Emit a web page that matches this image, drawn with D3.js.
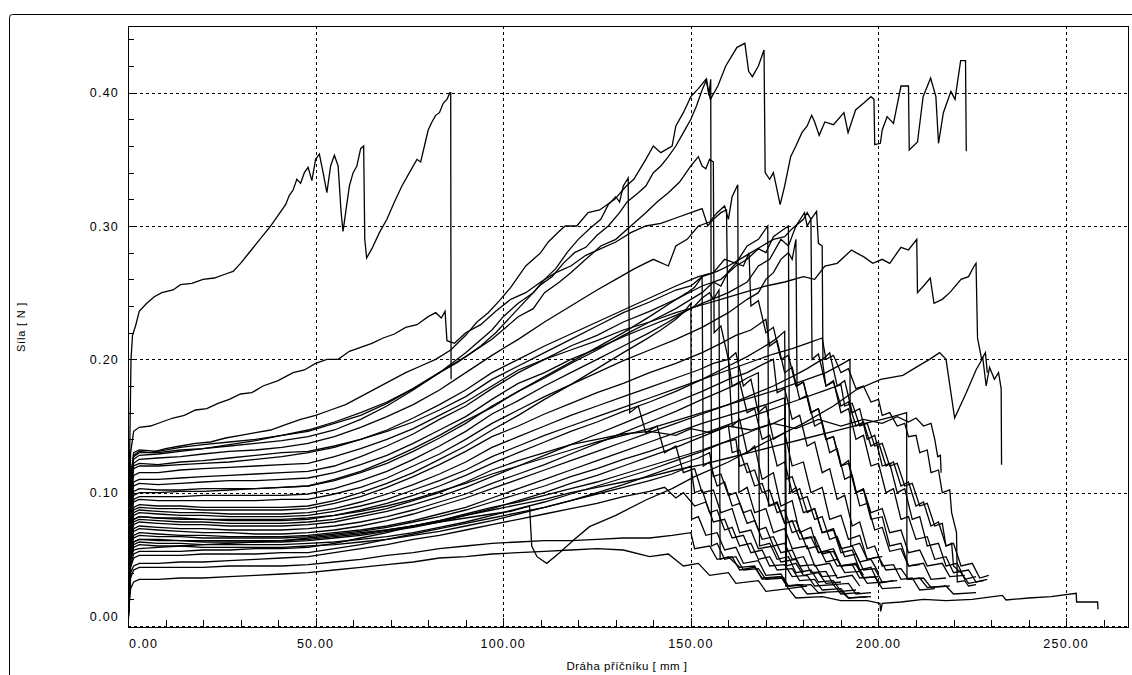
<!DOCTYPE html>
<html lang="en">
<head>
<meta charset="utf-8">
<title>Síla / dráha příčníku</title>
<script src="https://d3js.org/d3.v7.min.js"></script>
<style>
  body { margin: 0; background: #fff; }
  text { font-family: "Liberation Sans", Arial, sans-serif; fill: #000; }
</style>
</head>
<body>
<script>
// axis ticks (mm and N)
const xTicks = [0, 50, 100, 150, 200, 250];
const yTicks = [0, 0.1, 0.2, 0.3, 0.4];

// test curves, [dráha mm, síla N]
const c01 = [[0,0],[0.4,0.12],[0.8,0.2],[1.2,0.218],[2,0.225],[3,0.236],[5,0.242],[7,0.247],[9,0.25],[12,0.252],[14,0.256],[17,0.257],[20,0.26],[23,0.261],[26,0.264],[28,0.266],[30,0.272],[32,0.279],[34,0.286],[36,0.293],[38,0.3],[40,0.308],[42,0.316],[43,0.323],[44,0.327],[45,0.335],[46,0.332],[47,0.34],[48,0.344],[49,0.334],[50,0.35],[51,0.354],[52,0.34],[53,0.325],[54,0.345],[55,0.353],[56,0.345],[56.8,0.31],[57.3,0.296],[58,0.31],[59,0.33],[60,0.34],[61,0.345],[62,0.358],[62.8,0.36],[63.1,0.29],[63.6,0.276],[65,0.283],[67,0.295],[69,0.305],[71,0.318],[73,0.33],[75,0.34],[77,0.35],[78,0.348],[79,0.36],[80,0.372],[81,0.378],[82,0.383],[83,0.385],[84,0.392],[85,0.395],[85.8,0.4],[86,0.4],[86.1,0.185]];
const c02 = [[0,0],[0.3,0.06],[0.7,0.13],[1.5,0.146],[3,0.149],[6,0.15],[9,0.153],[12,0.156],[15,0.158],[18,0.162],[21,0.163],[24,0.167],[27,0.17],[30,0.174],[33,0.175],[36,0.18],[40,0.184],[44,0.19],[47,0.192],[50,0.197],[53,0.2],[56,0.2],[59,0.206],[62,0.209],[65,0.212],[68,0.216],[71,0.219],[74,0.224],[77,0.226],[80,0.232],[82,0.235],[83.5,0.231],[84.5,0.236],[85,0.214],[87,0.212],[90,0.22],[94,0.226],[98,0.236],[102,0.245],[106,0.25],[110,0.258],[114,0.265],[118,0.27],[122,0.278],[126,0.283],[130,0.288],[134,0.295],[138,0.3],[142,0.302],[146,0.306],[150,0.31],[153,0.313],[154.5,0.3],[156,0.305],[158,0.31],[159.5,0.312],[160,0.2],[161,0.15],[163,0.155],[165,0.13],[167,0.135],[169,0.11],[172,0.115],[174,0.09],[177,0.094],[179,0.07],[182,0.074],[184,0.055],[188,0.058],[190,0.045],[194,0.047],[196,0.038]];
const c03 = [[0,0],[0.3,0.05],[0.7,0.11],[1.5,0.128],[3,0.131],[6,0.13],[10,0.133],[14,0.135],[18,0.137],[22,0.138],[26,0.141],[30,0.143],[34,0.145],[38,0.147],[42,0.151],[46,0.155],[50,0.158],[54,0.162],[58,0.166],[62,0.172],[66,0.178],[70,0.184],[74,0.19],[78,0.195],[82,0.2],[86,0.207],[90,0.218],[93,0.228],[96,0.235],[99,0.244],[102,0.254],[106,0.27],[110,0.28],[112,0.288],[114.5,0.295],[116.5,0.3],[119.6,0.3],[122.6,0.31],[125.7,0.312],[129.7,0.32],[132.8,0.33],[134.8,0.335],[138,0.35],[140,0.36],[142,0.355],[145,0.36],[146,0.375],[148,0.385],[150,0.397],[152,0.403],[154,0.41],[155.2,0.395],[157.2,0.405],[159.3,0.42],[161,0.428],[162.3,0.434],[164.4,0.437],[165.4,0.416],[166.4,0.412],[168,0.42],[169.5,0.432],[169.8,0.34],[171,0.335],[172,0.34],[173.8,0.316],[175,0.33],[176.6,0.352],[178,0.36],[179.6,0.37],[181,0.375],[182.2,0.383],[183,0.378],[184.2,0.368],[185.7,0.378],[188,0.376],[190.8,0.385],[191.9,0.37],[193.9,0.387],[196,0.392],[198,0.397],[198.8,0.395],[199,0.361],[200.5,0.362],[201,0.372],[202.3,0.382],[204,0.377],[206,0.405],[208,0.405],[208.2,0.357],[210.4,0.363],[211.9,0.397],[213.9,0.411],[215.3,0.397],[216,0.362],[217.3,0.385],[219.3,0.401],[220.4,0.395],[221.9,0.424],[223.2,0.424],[223.4,0.356]];
const c04 = [[0,0],[0.3,0.05],[0.7,0.105],[1.5,0.125],[3,0.128],[8,0.129],[14,0.131],[20,0.133],[27,0.136],[34,0.139],[41,0.143],[48,0.147],[55,0.153],[62,0.16],[69,0.168],[76,0.178],[83,0.19],[88,0.198],[94,0.21],[98,0.22],[102,0.232],[106,0.244],[110,0.256],[113,0.262],[116,0.272],[119,0.28],[122,0.284],[125,0.293],[128,0.3],[131,0.31],[133,0.318],[136,0.325],[138,0.33],[140,0.34],[142,0.345],[144,0.352],[146,0.36],[148,0.37],[150,0.38],[151.5,0.39],[153,0.402],[154.2,0.41],[154.8,0.398],[155.3,0.41],[155.5,0.06],[157,0.062],[159,0.05],[162,0.052],[164,0.042],[168,0.043],[170,0.035],[175,0.036]];
const c05 = [[0,0],[0.3,0.05],[0.7,0.11],[1.5,0.13],[3,0.132],[8,0.131],[14,0.134],[20,0.136],[27,0.138],[34,0.14],[41,0.143],[48,0.146],[55,0.152],[62,0.158],[69,0.167],[76,0.178],[83,0.19],[90,0.202],[97,0.215],[104,0.232],[108,0.238],[111,0.25],[115,0.258],[118,0.265],[122,0.275],[126,0.285],[130,0.29],[134,0.3],[138,0.31],[141,0.318],[144,0.325],[147,0.333],[150,0.345],[152,0.352],[153,0.345],[154,0.343],[155,0.35],[156,0.348],[156.2,0.22],[158,0.225],[160,0.2],[162,0.205],[164,0.18],[166,0.185],[168,0.16],[170,0.165],[172,0.14],[175,0.145],[177,0.12],[180,0.123],[182,0.1],[185,0.104],[187,0.08],[190,0.083],[192,0.065],[195,0.068],[197,0.05],[201,0.052]];
const c06 = [[0,0],[0.3,0.05],[0.7,0.11],[1.5,0.127],[3,0.13],[8,0.13],[14,0.132],[20,0.133],[27,0.135],[34,0.137],[41,0.139],[48,0.142],[55,0.147],[62,0.155],[69,0.165],[76,0.177],[83,0.19],[90,0.205],[97,0.222],[100,0.232],[104,0.242],[108,0.25],[111,0.26],[114,0.268],[117,0.28],[120,0.29],[123,0.298],[126,0.305],[128,0.316],[130,0.322],[131,0.318],[132,0.33],[133.3,0.336],[133.7,0.16],[136,0.165],[138,0.145],[141,0.15],[143,0.13],[146,0.135],[148,0.115],[151,0.118],[153,0.1],[156,0.102],[158,0.085],[161,0.088],[163,0.07],[166,0.072],[168,0.058],[172,0.06],[174,0.048],[178,0.05],[180,0.04]];
const c07 = [[0,0],[0.3,0.05],[0.7,0.1],[1.5,0.122],[3,0.125],[8,0.126],[14,0.127],[20,0.129],[27,0.131],[34,0.132],[41,0.134],[48,0.137],[55,0.142],[62,0.149],[69,0.157],[76,0.166],[83,0.177],[90,0.19],[97,0.203],[104,0.215],[111,0.228],[118,0.24],[125,0.252],[130,0.26],[135,0.268],[140,0.275],[144,0.27],[146,0.285],[149,0.29],[152,0.3],[155,0.303],[157,0.31],[159,0.315],[160,0.305],[161,0.322],[162.5,0.331],[162.8,0.1],[165,0.104],[167,0.085],[170,0.088],[172,0.07],[175,0.073],[177,0.058],[181,0.06],[183,0.045],[187,0.047],[189,0.036],[193,0.038],[195,0.03]];
const c08 = [[0,0],[0.3,0.05],[0.7,0.1],[1.5,0.12],[3,0.122],[8,0.121],[14,0.123],[20,0.124],[27,0.126],[34,0.128],[41,0.13],[48,0.131],[55,0.135],[62,0.14],[69,0.146],[76,0.153],[83,0.162],[90,0.172],[97,0.185],[104,0.195],[111,0.205],[118,0.215],[125,0.225],[132,0.235],[139,0.243],[146,0.252],[150,0.255],[153,0.262],[157,0.266],[160,0.27],[163,0.275],[166,0.28],[169,0.285],[172,0.29],[175,0.292],[177,0.298],[180,0.305],[181,0.31],[182,0.305],[183.5,0.311],[184,0.287],[185,0.285],[185.2,0.2],[187,0.205],[189,0.18],[191,0.184],[193,0.16],[195,0.163],[197,0.14],[199,0.143],[201,0.12],[203,0.122],[205,0.1],[207,0.103],[209,0.08],[211,0.082],[213,0.06],[216,0.062],[218,0.045],[221,0.047],[223,0.035],[226,0.037]];
const c09 = [[0,0],[0.3,0.045],[0.7,0.095],[1.5,0.113],[3,0.115],[8,0.115],[14,0.117],[20,0.118],[27,0.119],[34,0.12],[41,0.121],[48,0.122],[55,0.127],[62,0.133],[69,0.14],[76,0.148],[83,0.158],[90,0.168],[97,0.18],[104,0.192],[111,0.2],[118,0.207],[125,0.214],[132,0.222],[139,0.228],[146,0.235],[152,0.24],[158,0.245],[164,0.25],[170,0.255],[175,0.258],[180,0.262],[183,0.26],[185.7,0.27],[189,0.272],[192.8,0.282],[194,0.28],[196,0.277],[198.5,0.272],[201,0.275],[203,0.272],[206,0.284],[208,0.282],[210.2,0.29],[210.4,0.25],[212,0.255],[213.8,0.261],[214.8,0.242],[217,0.245],[219,0.25],[222,0.26],[224,0.262],[225.5,0.27],[226,0.272],[226.4,0.216],[227.5,0.2],[228.5,0.205],[229,0.19]];
const c10 = [[0,0],[0.3,0.045],[0.7,0.09],[1.5,0.108],[3,0.11],[8,0.11],[14,0.111],[20,0.112],[27,0.113],[34,0.114],[41,0.115],[48,0.116],[55,0.12],[62,0.127],[69,0.135],[76,0.144],[83,0.155],[90,0.165],[97,0.178],[104,0.19],[111,0.2],[118,0.21],[125,0.218],[132,0.228],[139,0.236],[146,0.245],[153,0.255],[158,0.26],[162,0.27],[165,0.275],[168,0.283],[170,0.28],[172,0.292],[174,0.296],[176,0.3],[176.3,0.1],[178,0.104],[180,0.085],[183,0.088],[185,0.07],[188,0.073],[190,0.058],[193,0.06],[195,0.048],[198,0.05],[200,0.04]];
const c11 = [[0,0],[0.3,0.04],[0.7,0.09],[1.5,0.105],[3,0.107],[8,0.106],[14,0.107],[20,0.108],[27,0.109],[34,0.109],[41,0.11],[48,0.111],[55,0.115],[62,0.121],[69,0.128],[76,0.137],[83,0.147],[90,0.157],[97,0.17],[104,0.182],[111,0.19],[118,0.2],[125,0.208],[132,0.217],[139,0.225],[146,0.233],[153,0.242],[160,0.25],[165,0.258],[168,0.27],[171,0.275],[174,0.29],[176,0.285],[178,0.3],[180.3,0.31],[181,0.3],[182,0.305],[182.3,0.2],[184,0.204],[186,0.18],[188,0.184],[190,0.16],[192,0.163],[194,0.14],[196,0.143],[198,0.12],[200,0.122],[202,0.1],[204,0.103],[206,0.08],[208,0.082],[210,0.065],[213,0.067],[215,0.05],[218,0.052],[220,0.04],[224,0.042],[226,0.033],[229,0.035]];
const c12 = [[0,0],[0.3,0.04],[0.7,0.085],[1.5,0.098],[3,0.1],[8,0.1],[14,0.101],[20,0.101],[27,0.102],[34,0.103],[41,0.104],[48,0.105],[55,0.109],[62,0.115],[69,0.122],[76,0.131],[83,0.141],[90,0.152],[97,0.165],[104,0.176],[111,0.186],[118,0.197],[125,0.207],[132,0.218],[139,0.228],[146,0.238],[150,0.245],[153,0.25],[156,0.258],[158,0.255],[160,0.266],[162,0.272],[164,0.27],[165.5,0.28],[166,0.24],[168,0.244],[170,0.22],[172,0.224],[174,0.2],[176,0.203],[178,0.18],[180,0.183],[182,0.16],[184,0.163],[186,0.14],[188,0.142],[190,0.12],[192,0.122],[194,0.1],[196,0.102],[198,0.08],[201,0.082],[203,0.06],[206,0.062],[208,0.045],[212,0.047],[214,0.035],[218,0.036]];
const c13 = [[0,0],[0.3,0.04],[0.7,0.08],[1.5,0.095],[3,0.097],[8,0.097],[14,0.097],[20,0.098],[27,0.098],[34,0.098],[41,0.098],[48,0.099],[55,0.103],[62,0.109],[69,0.116],[76,0.125],[83,0.135],[90,0.146],[97,0.159],[104,0.169],[111,0.18],[118,0.19],[125,0.2],[132,0.21],[139,0.22],[144,0.228],[148,0.235],[151,0.24],[153,0.246],[155,0.25],[156,0.245],[157.5,0.252],[157.8,0.05],[160,0.052],[163,0.044],[167,0.045],[169,0.035],[174,0.037],[176,0.028],[181,0.03]];
const c14 = [[0,0],[0.3,0.04],[0.7,0.08],[1.5,0.093],[3,0.095],[8,0.094],[14,0.094],[20,0.094],[27,0.094],[34,0.094],[41,0.095],[48,0.095],[55,0.099],[62,0.104],[69,0.111],[76,0.12],[83,0.129],[90,0.14],[97,0.152],[104,0.162],[111,0.172],[118,0.181],[125,0.19],[132,0.199],[139,0.207],[146,0.215],[153,0.224],[160,0.235],[165,0.245],[168,0.25],[170,0.26],[172,0.265],[174,0.275],[176,0.28],[177,0.275],[178,0.29],[178.3,0.18],[180,0.183],[182,0.16],[184,0.163],[186,0.14],[188,0.142],[190,0.12],[192,0.124],[194,0.1],[196,0.103],[198,0.085],[201,0.088],[203,0.07],[206,0.072],[208,0.055],[211,0.057],[213,0.045],[217,0.047],[219,0.037],[223,0.038]];
const c15 = [[0,0],[0.3,0.025],[0.7,0.05],[1.5,0.057],[3,0.058],[8,0.059],[14,0.06],[20,0.061],[27,0.062],[34,0.063],[41,0.064],[48,0.066],[55,0.068],[62,0.07],[69,0.072],[76,0.075],[83,0.078],[90,0.081],[97,0.084],[102,0.086],[107,0.09],[107.6,0.06],[109,0.052],[111.6,0.047],[115,0.055],[119,0.065],[123,0.0745],[130,0.083],[138,0.0945],[145,0.103],[151,0.112],[160,0.123],[170,0.138],[180,0.152],[188,0.165],[194,0.177],[200.6,0.185],[206.5,0.188],[210,0.194],[213.6,0.2],[216.3,0.205],[218,0.2],[220.3,0.156],[223.4,0.175],[226,0.192],[227.8,0.201],[228.7,0.18],[229.6,0.194],[230.9,0.185],[232,0.19],[232.7,0.178],[232.8,0.121]];
const c16 = [[0,0],[0.3,0.035],[0.7,0.075],[1.5,0.087],[3,0.089],[8,0.088],[14,0.088],[20,0.087],[27,0.087],[34,0.087],[41,0.087],[48,0.088],[55,0.092],[62,0.097],[69,0.104],[76,0.112],[83,0.121],[90,0.131],[97,0.142],[104,0.15],[111,0.159],[118,0.167],[125,0.175],[132,0.182],[139,0.19],[146,0.197],[153,0.205],[158,0.212],[162,0.218],[166,0.222],[170,0.23],[171,0.21],[173,0.214],[175,0.19],[177,0.194],[179,0.17],[181,0.173],[183,0.15],[185,0.153],[187,0.13],[189,0.133],[191,0.11],[193,0.113],[195,0.09],[197,0.092],[199,0.072],[201,0.074],[203,0.056],[206,0.058],[208,0.045],[211,0.046]];
const c17 = [[0,0],[0.3,0.035],[0.7,0.07],[1.5,0.085],[3,0.087],[8,0.086],[14,0.085],[20,0.085],[27,0.084],[34,0.084],[41,0.084],[48,0.085],[55,0.088],[62,0.093],[69,0.099],[76,0.106],[83,0.114],[90,0.123],[97,0.134],[104,0.142],[111,0.15],[118,0.158],[125,0.165],[132,0.172],[139,0.179],[146,0.186],[152,0.192],[156,0.197],[160,0.2],[161,0.18],[163,0.183],[165,0.16],[167,0.163],[169,0.14],[171,0.143],[173,0.12],[175,0.123],[177,0.1],[179,0.103],[181,0.085],[183,0.088],[185,0.07],[188,0.072],[190,0.055],[193,0.057],[195,0.042],[198,0.044],[200,0.032],[204,0.034]];
const c18 = [[0,0],[0.3,0.035],[0.7,0.07],[1.5,0.083],[3,0.085],[8,0.084],[14,0.083],[20,0.083],[27,0.082],[34,0.082],[41,0.082],[48,0.083],[55,0.086],[62,0.09],[69,0.095],[76,0.102],[83,0.109],[90,0.117],[97,0.127],[104,0.135],[111,0.143],[118,0.15],[125,0.157],[132,0.164],[139,0.171],[146,0.178],[153,0.185],[160,0.192],[166,0.198],[172,0.204],[177,0.208],[181,0.212],[185,0.216],[186,0.2],[188,0.203],[190,0.19],[192,0.193],[194,0.178],[196,0.18],[198,0.168],[200,0.17],[201,0.158],[203,0.16],[205,0.15],[207,0.152],[208,0.142],[210,0.143],[211,0.13],[213,0.132],[214,0.115],[216,0.117],[217,0.1],[219,0.102],[219.5,0.085],[220.8,0.07],[221,0.033],[223,0.034],[224,0.03],[226,0.031]];
const c19 = [[0,0],[0.3,0.03],[0.7,0.07],[1.5,0.08],[3,0.082],[8,0.081],[14,0.08],[20,0.08],[27,0.079],[34,0.079],[41,0.079],[48,0.08],[55,0.083],[62,0.087],[69,0.092],[76,0.098],[83,0.105],[90,0.113],[97,0.122],[104,0.13],[111,0.138],[118,0.146],[125,0.153],[132,0.161],[139,0.168],[146,0.176],[153,0.185],[160,0.195],[165,0.202],[168,0.207],[171,0.212],[173,0.216],[175,0.221],[175.5,0.045],[178,0.047],[180,0.038],[184,0.04],[186,0.032],[190,0.033]];
const c20 = [[0,0],[0.3,0.03],[0.7,0.065],[1.5,0.078],[3,0.08],[8,0.079],[14,0.078],[20,0.078],[27,0.077],[34,0.077],[41,0.077],[48,0.078],[55,0.08],[62,0.084],[69,0.088],[76,0.094],[83,0.1],[90,0.108],[97,0.117],[104,0.124],[111,0.13],[118,0.136],[125,0.14],[132,0.144],[139,0.146],[146,0.143],[150,0.148],[155,0.145],[160,0.15],[166,0.147],[172,0.152],[178,0.148],[184,0.155],[190,0.15],[196,0.155],[201,0.152],[205,0.157],[208,0.153],[210,0.156],[212,0.15],[214,0.152],[215,0.14],[215.8,0.127],[216.5,0.128],[216.7,0.115]];
const c21 = [[0,0],[0.3,0.03],[0.7,0.065],[1.5,0.076],[3,0.078],[8,0.077],[14,0.076],[20,0.076],[27,0.075],[34,0.075],[41,0.075],[48,0.076],[55,0.078],[62,0.082],[69,0.086],[76,0.091],[83,0.097],[90,0.104],[97,0.112],[104,0.12],[111,0.128],[118,0.136],[125,0.144],[132,0.152],[139,0.16],[146,0.168],[153,0.176],[160,0.185],[165,0.19],[169,0.196],[172,0.2],[173,0.175],[175,0.178],[177,0.155],[179,0.158],[181,0.135],[183,0.138],[185,0.115],[187,0.118],[189,0.095],[191,0.098],[193,0.075],[195,0.078],[197,0.058],[199,0.06],[201,0.045],[204,0.046],[206,0.035],[209,0.036],[211,0.027],[215,0.028]];
const c22 = [[0,0],[0.3,0.03],[0.7,0.062],[1.5,0.073],[3,0.075],[8,0.074],[14,0.073],[20,0.073],[27,0.072],[34,0.072],[41,0.072],[48,0.073],[55,0.075],[62,0.078],[69,0.082],[76,0.087],[83,0.093],[90,0.099],[97,0.107],[104,0.114],[111,0.121],[118,0.129],[125,0.137],[132,0.145],[139,0.153],[146,0.161],[153,0.17],[158,0.176],[162,0.181],[165,0.186],[168,0.19],[168.3,0.06],[171,0.062],[173,0.05],[176,0.052],[178,0.04],[182,0.042],[184,0.033],[188,0.034],[190,0.026],[194,0.027]];
const c23 = [[0,0],[0.3,0.03],[0.7,0.06],[1.5,0.071],[3,0.073],[8,0.072],[14,0.071],[20,0.07],[27,0.07],[34,0.069],[41,0.069],[48,0.07],[55,0.072],[62,0.075],[69,0.079],[76,0.084],[83,0.09],[90,0.096],[97,0.103],[104,0.11],[111,0.117],[118,0.124],[125,0.131],[132,0.138],[139,0.145],[146,0.152],[153,0.159],[160,0.166],[166,0.173],[172,0.18],[177,0.187],[181,0.193],[185,0.2],[186,0.18],[188,0.183],[190,0.165],[192,0.168],[194,0.15],[196,0.153],[198,0.135],[200,0.138],[202,0.12],[204,0.123],[206,0.105],[208,0.108],[210,0.09],[212,0.093],[214,0.075],[216,0.078],[218,0.06],[220,0.062],[222,0.045],[225,0.047],[227,0.036],[229.4,0.038]];
const c24 = [[0,0],[0.3,0.03],[0.7,0.058],[1.5,0.068],[3,0.07],[8,0.069],[14,0.068],[20,0.068],[27,0.067],[34,0.067],[41,0.067],[48,0.068],[55,0.07],[62,0.072],[69,0.075],[76,0.079],[83,0.084],[90,0.089],[97,0.096],[104,0.103],[111,0.11],[118,0.117],[125,0.124],[132,0.131],[139,0.138],[146,0.145],[153,0.152],[160,0.158],[165,0.162],[170,0.166],[175,0.171],[175.3,0.03],[179,0.031],[181,0.024],[186,0.025]];
const c25 = [[0,0],[0.3,0.028],[0.7,0.056],[1.5,0.066],[3,0.068],[8,0.067],[14,0.067],[20,0.066],[27,0.066],[34,0.066],[41,0.066],[48,0.067],[55,0.069],[62,0.071],[69,0.074],[76,0.078],[83,0.082],[90,0.087],[97,0.093],[104,0.099],[111,0.105],[118,0.112],[125,0.118],[132,0.125],[139,0.131],[146,0.138],[153,0.144],[160,0.151],[167,0.158],[174,0.165],[180,0.171],[185,0.176],[190,0.181],[191,0.165],[193,0.167],[195,0.15],[197,0.152],[199,0.135],[201,0.137],[203,0.12],[205,0.122],[207,0.105],[209,0.107],[211,0.09],[213,0.092],[215,0.075],[217,0.077],[218,0.06],[219.5,0.062],[220,0.045],[222,0.04],[224,0.032],[228,0.034]];
const c26 = [[0,0],[0.3,0.027],[0.7,0.054],[1.5,0.063],[3,0.065],[8,0.064],[14,0.064],[20,0.063],[27,0.063],[34,0.063],[41,0.063],[48,0.064],[55,0.066],[62,0.068],[69,0.071],[76,0.074],[83,0.078],[90,0.083],[97,0.088],[104,0.094],[111,0.1],[118,0.107],[125,0.113],[132,0.12],[139,0.127],[146,0.134],[153,0.142],[160,0.15],[161,0.13],[163,0.132],[165,0.115],[167,0.117],[169,0.1],[171,0.102],[173,0.085],[175,0.087],[177,0.07],[179,0.072],[181,0.058],[184,0.06],[186,0.048],[189,0.05],[191,0.04],[195,0.041],[197,0.032],[201,0.033]];
const c27 = [[0,0],[0.3,0.026],[0.7,0.052],[1.5,0.061],[3,0.063],[8,0.062],[14,0.062],[20,0.061],[27,0.061],[34,0.061],[41,0.061],[48,0.062],[55,0.063],[62,0.065],[69,0.067],[76,0.07],[83,0.074],[90,0.078],[97,0.083],[104,0.088],[111,0.093],[118,0.099],[125,0.105],[132,0.111],[139,0.117],[146,0.124],[153,0.131],[160,0.139],[167,0.147],[172,0.152],[175,0.156],[175.4,0.11],[177,0.112],[179,0.095],[181,0.097],[183,0.08],[185,0.082],[187,0.065],[189,0.067],[191,0.052],[194,0.054],[196,0.042],[199,0.043],[201,0.033],[205,0.034]];
const c28 = [[0,0],[0.3,0.025],[0.7,0.05],[1.5,0.059],[3,0.061],[8,0.06],[14,0.06],[20,0.059],[27,0.059],[34,0.059],[41,0.059],[48,0.06],[55,0.061],[62,0.063],[69,0.065],[76,0.068],[83,0.071],[90,0.075],[97,0.079],[104,0.084],[111,0.089],[118,0.094],[125,0.1],[132,0.106],[139,0.113],[146,0.12],[152,0.126],[155,0.13],[156,0.112],[158,0.114],[160,0.098],[162,0.1],[164,0.085],[166,0.087],[168,0.072],[170,0.074],[172,0.06],[175,0.062],[177,0.05],[180,0.052],[182,0.04],[186,0.041],[188,0.031],[192,0.032],[194,0.024],[198,0.025]];
const c29 = [[0,0],[0.3,0.023],[0.7,0.046],[1.5,0.054],[3,0.056],[8,0.056],[14,0.056],[20,0.057],[27,0.057],[34,0.058],[41,0.058],[48,0.059],[55,0.062],[62,0.066],[69,0.07],[76,0.075],[83,0.079],[90,0.084],[97,0.089],[104,0.093],[111,0.098],[118,0.103],[125,0.108],[132,0.114],[139,0.12],[146,0.126],[153,0.132],[158,0.137],[162,0.14],[163,0.12],[165,0.122],[167,0.105],[169,0.107],[171,0.09],[173,0.092],[175,0.077],[177,0.079],[179,0.065],[182,0.067],[184,0.055],[187,0.056],[189,0.045],[193,0.046],[195,0.036],[199,0.037],[201,0.028],[206,0.029]];
const c30 = [[0,0],[0.3,0.022],[0.7,0.044],[1.5,0.051],[3,0.053],[8,0.053],[14,0.053],[20,0.054],[27,0.054],[34,0.054],[41,0.055],[48,0.055],[55,0.058],[62,0.061],[69,0.065],[76,0.069],[83,0.073],[90,0.077],[97,0.081],[104,0.085],[111,0.089],[118,0.094],[125,0.099],[132,0.104],[139,0.109],[145,0.114],[150,0.12],[151,0.1],[153,0.102],[155,0.085],[157,0.087],[159,0.072],[161,0.074],[163,0.06],[166,0.062],[168,0.05],[171,0.052],[173,0.042],[177,0.043],[179,0.034],[183,0.035],[185,0.027],[190,0.028],[192,0.021],[197,0.022]];
const c31 = [[0,0],[0.3,0.02],[0.7,0.04],[1.5,0.045],[3,0.047],[8,0.047],[14,0.048],[20,0.048],[27,0.049],[34,0.05],[41,0.051],[48,0.052],[55,0.055],[62,0.058],[69,0.061],[76,0.065],[83,0.068],[90,0.072],[97,0.076],[104,0.08],[111,0.084],[118,0.088],[125,0.092],[132,0.097],[139,0.101],[143,0.104],[146,0.096],[148,0.1],[151,0.09],[154,0.093],[156,0.078],[159,0.08],[161,0.066],[164,0.068],[166,0.055],[169,0.057],[171,0.045],[175,0.046],[177,0.037],[181,0.038],[183,0.03],[188,0.031],[190,0.024],[195,0.025]];
const c32 = [[0,0],[0.3,0.018],[0.7,0.036],[1.5,0.042],[3,0.044],[8,0.044],[14,0.044],[20,0.044],[27,0.045],[34,0.045],[41,0.045],[48,0.046],[55,0.048],[62,0.05],[69,0.053],[76,0.055],[83,0.058],[90,0.06],[97,0.062],[104,0.063],[111,0.064],[118,0.064],[125,0.065],[132,0.066],[139,0.066],[145,0.068],[150,0.07],[151,0.058],[155,0.06],[157,0.05],[161,0.052],[163,0.042],[167,0.044],[169,0.036],[174,0.037],[176,0.03],[182,0.031],[184,0.025],[190,0.026],[192,0.021],[198,0.022]];
const c33 = [[0,0],[0.3,0.035],[0.7,0.075],[1.5,0.089],[3,0.091],[8,0.09],[14,0.09],[20,0.089],[27,0.089],[34,0.089],[41,0.089],[48,0.09],[55,0.094],[62,0.1],[69,0.107],[76,0.115],[83,0.125],[90,0.135],[97,0.147],[104,0.158],[111,0.17],[118,0.181],[125,0.193],[132,0.205],[138,0.215],[142,0.222],[146,0.23],[148,0.235],[150,0.242],[150.2,0.08],[152,0.082],[154,0.068],[157,0.07],[159,0.057],[162,0.059],[164,0.047],[168,0.049],[170,0.038],[174,0.039],[176,0.03],[180,0.031]];
const c34 = [[0,0],[0.3,0.04],[0.7,0.085],[1.5,0.101],[3,0.103],[8,0.102],[14,0.102],[20,0.103],[27,0.103],[34,0.103],[41,0.104],[48,0.105],[55,0.11],[62,0.116],[69,0.124],[76,0.133],[83,0.143],[90,0.154],[97,0.164],[104,0.176],[111,0.187],[118,0.198],[125,0.209],[132,0.22],[139,0.232],[145,0.243],[149,0.25],[151,0.254],[153,0.262],[153.3,0.12],[155,0.123],[157,0.105],[159,0.108],[161,0.09],[163,0.092],[165,0.077],[167,0.079],[169,0.065],[172,0.067],[174,0.055],[177,0.057],[179,0.045],[183,0.046],[185,0.037],[189,0.038]];
const c35 = [[0,0],[0.3,0.05],[0.7,0.1],[1.5,0.118],[3,0.12],[8,0.12],[14,0.121],[20,0.122],[27,0.123],[34,0.125],[41,0.127],[48,0.13],[55,0.134],[62,0.14],[69,0.147],[76,0.156],[83,0.166],[90,0.177],[97,0.19],[104,0.2],[111,0.21],[118,0.219],[125,0.228],[132,0.237],[139,0.246],[146,0.255],[152,0.262],[156,0.265],[159,0.275],[162,0.272],[165,0.285],[168,0.29],[170.5,0.3],[170.7,0.09],[173,0.093],[175,0.077],[178,0.079],[180,0.065],[183,0.067],[185,0.054],[188,0.056],[190,0.045],[194,0.046],[196,0.036],[200,0.037]];
const c36 = [[0,0],[0.3,0.03],[0.7,0.068],[1.5,0.08],[3,0.082],[8,0.081],[14,0.081],[20,0.08],[27,0.08],[34,0.08],[41,0.08],[48,0.081],[55,0.083],[62,0.086],[69,0.09],[76,0.095],[83,0.101],[90,0.107],[97,0.114],[104,0.12],[111,0.126],[118,0.132],[125,0.138],[132,0.143],[139,0.148],[146,0.154],[153,0.16],[160,0.166],[167,0.172],[174,0.178],[180,0.184],[186,0.19],[190,0.196],[192.4,0.2],[192.6,0.06],[195,0.062],[197,0.05],[200,0.052],[202,0.042],[206,0.043],[208,0.035],[212,0.036],[214,0.029],[219,0.03]];
const c37 = [[0,0],[0.3,0.026],[0.7,0.054],[1.5,0.063],[3,0.065],[8,0.065],[14,0.064],[20,0.064],[27,0.064],[34,0.064],[41,0.064],[48,0.065],[55,0.067],[62,0.069],[69,0.072],[76,0.075],[83,0.079],[90,0.083],[97,0.087],[104,0.091],[111,0.095],[118,0.1],[125,0.104],[132,0.108],[139,0.112],[146,0.117],[153,0.121],[160,0.126],[167,0.131],[174,0.136],[181,0.141],[188,0.146],[195,0.151],[201,0.155],[205,0.158],[207.5,0.16],[207.6,0.035],[211,0.036],[213,0.029],[218,0.03],[220,0.024],[226,0.025]];
const c38 = [[0,0],[0.3,0.015],[0.7,0.028],[1.5,0.033],[3,0.035],[8,0.035],[14,0.036],[20,0.036],[27,0.037],[34,0.038],[41,0.039],[48,0.04],[55,0.042],[62,0.044],[69,0.046],[76,0.048],[83,0.051],[90,0.052],[97,0.054],[104,0.055],[111,0.056],[118,0.057],[125,0.058],[132,0.057],[139,0.052],[144,0.054],[148,0.045],[152,0.047],[155,0.038],[160,0.04],[162,0.032],[168,0.034],[170,0.026],[176,0.028],[178,0.021],[185,0.022],[190,0.019],[197,0.019],[200.4,0.017],[200.6,0.011],[201,0.017],[206,0.018],[212,0.02],[218,0.019],[225,0.02],[233,0.023],[234,0.0195],[240,0.021],[246,0.022],[252.7,0.0245],[252.8,0.018],[258.4,0.018],[258.5,0.0125]];

const curves = [c01, c02, c03, c04, c05, c06, c07, c08, c09, c10, c11, c12, c13, c14, c15, c16, c17, c18, c19,
  c20, c21, c22, c23, c24, c25, c26, c27, c28, c29, c30, c31, c32, c33, c34, c35, c36, c37, c38];

// page and plot box
const width = 1132, height = 675;
const plot = { left: 128, top: 26, right: 1128, bottom: 627 };

const svg = d3.select("body").append("svg")
  .attr("width", width)
  .attr("height", height);

svg.append("rect").attr("width", width).attr("height", height).attr("fill", "#fff");

// outer rounded frame (runs off the page on the right and bottom)
svg.append("rect")
  .attr("x", 9.5).attr("y", 14.5)
  .attr("width", 1140).attr("height", 700)
  .attr("rx", 3)
  .attr("fill", "none").attr("stroke", "#000");

const x = d3.scaleLinear().domain([0, 266.5]).range([plot.left, plot.right]);
const y = d3.scaleLinear().domain([0, 0.45]).range([626, plot.top]);

// dashed grid
const grid = svg.append("g").attr("stroke", "#000").attr("stroke-dasharray", "3,3").attr("shape-rendering", "crispEdges");
grid.selectAll(".gx").data(xTicks.filter(d => d > 0)).enter().append("line")
  .attr("x1", d => Math.round(x(d)) + 0.5).attr("x2", d => Math.round(x(d)) + 0.5)
  .attr("y1", plot.top).attr("y2", plot.bottom);
grid.selectAll(".gy").data(yTicks).enter().append("line")
  .attr("x1", plot.left).attr("x2", plot.right)
  .attr("y1", d => Math.round(y(d)) + 0.5).attr("y2", d => Math.round(y(d)) + 0.5);

// curves
svg.append("clipPath").attr("id", "clip").append("rect")
  .attr("x", plot.left).attr("y", plot.top)
  .attr("width", plot.right - plot.left).attr("height", plot.bottom - plot.top);

const line = d3.line().x(d => x(d[0])).y(d => y(d[1]));

svg.append("g").attr("clip-path", "url(#clip)")
  .selectAll("path").data(curves).enter().append("path")
  .attr("d", line)
  .attr("fill", "none")
  .attr("stroke", "#000")
  .attr("stroke-width", 1.3)
  .attr("stroke-linejoin", "miter");

// plot box
svg.append("rect")
  .attr("x", plot.left + 0.5).attr("y", plot.top + 0.5)
  .attr("width", plot.right - plot.left).attr("height", plot.bottom - plot.top)
  .attr("fill", "none").attr("stroke", "#000")
  .attr("shape-rendering", "crispEdges");

// minor ticks: every 0.02 N and every 10 mm, pointing inward
const ticks = svg.append("g").attr("stroke", "#000").attr("shape-rendering", "crispEdges");
ticks.selectAll(".ty").data(d3.range(1, 23)).enter().append("line")
  .attr("x1", plot.left).attr("x2", d => d % 5 === 0 ? plot.left + 9 : plot.left + 6)
  .attr("y1", d => Math.round(y(d * 0.02)) + 0.5).attr("y2", d => Math.round(y(d * 0.02)) + 0.5);
ticks.selectAll(".tx").data(d3.range(1, 27)).enter().append("line")
  .attr("x1", d => Math.round(x(d * 10)) + 0.5).attr("x2", d => Math.round(x(d * 10)) + 0.5)
  .attr("y1", plot.bottom).attr("y2", d => d % 5 === 0 ? plot.bottom - 9 : plot.bottom - 7);

// tick labels
svg.append("g").selectAll("text").data(yTicks).enter().append("text")
  .attr("x", 119)
  .attr("y", d => d === 0 ? 621 : y(d) + 4.5)
  .attr("text-anchor", "end")
  .attr("font-size", 12.5)
  .attr("letter-spacing", 1.2)
  .text(d => d.toFixed(2));

svg.append("g").selectAll("text").data(xTicks).enter().append("text")
  .attr("x", d => d === 0 ? plot.left + 1 : x(d))
  .attr("y", 648)
  .attr("text-anchor", d => d === 0 ? "start" : "middle")
  .attr("font-size", 12.5)
  .attr("letter-spacing", 1.2)
  .text(d => d.toFixed(2));

// axis titles
svg.append("text")
  .attr("transform", "translate(25,327) rotate(-90)")
  .attr("text-anchor", "middle")
  .attr("font-size", 11)
  .attr("letter-spacing", 0.8)
  .text("Síla [ N ]");

svg.append("text")
  .attr("x", 627).attr("y", 670)
  .attr("text-anchor", "middle")
  .attr("font-size", 11.5)
  .attr("letter-spacing", 0.5)
  .text("Dráha příčníku [ mm ]");
</script>
</body>
</html>
